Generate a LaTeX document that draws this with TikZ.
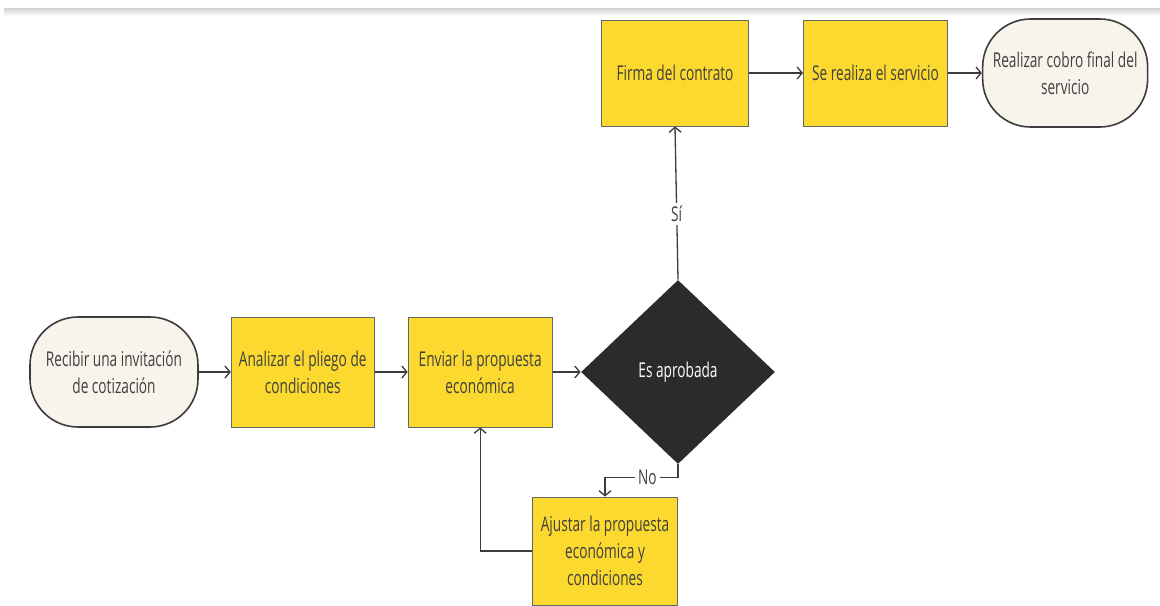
\documentclass[tikz,border=0pt]{standalone}
\usepackage{fontspec}
\setmainfont{Open Sans}[FakeStretch=0.67]
\usepackage{xcolor}
\usepackage{tikz}
\usetikzlibrary{shapes.geometric, arrows.meta, positioning}
\definecolor{boxyellow}{HTML}{FCD92E}
\definecolor{termfill}{HTML}{F8F4EC}
\definecolor{decfill}{HTML}{2B2B2D}
\definecolor{linegray}{HTML}{3C3C3C}
\newcommand{\lbl}{\fontsize{10.2}{13.5}\selectfont}

\begin{document}
\begin{tikzpicture}[x=0.5pt, y=-0.5pt]
		\tikzset{
			node distance=16pt and 16pt,
			term/.style={rectangle, draw=linegray, line width=0.8pt, fill=termfill, align=center, font=\lbl,
			text=black!75, minimum width=84pt, minimum height=55pt, rounded corners=24pt},
			box/.style={rectangle, draw=black!60, line width=0.45pt, fill=boxyellow, align=center, font=\lbl,
			text=black!75, minimum width=72pt, minimum height=55pt},
			decision/.style={diamond, fill=decfill, text=white, align=center, font=\lbl,
			minimum width=97pt, minimum height=92pt, inner sep=0pt},
			flow/.style={-{Straight Barb[length=2.5pt,width=6pt]}, draw=linegray, line width=0.65pt},
			tag/.style={fill=white, inner sep=1.5pt, font=\lbl, text=black!75}
		}
		\useasboundingbox (0,0) rectangle (1160,605);
		\shade[top color=black!18, bottom color=white] (4,8) rectangle (1160,16);

		\node[term](start) at (114,372){Recibir una invitación\\de cotización};
		\node[box, right=16pt of start, minimum width=71.5pt](analyze){Analizar el pliego de\\condiciones};
		\node[box, right=16.5pt of analyze](send){Enviar la propuesta\\económica};
		\node[decision, right=14pt of send](approved){Es aprobada};
		\node[box, minimum width=73.5pt, minimum height=53pt](sign) at (675,73){Firma del contrato};
		\node[box, right=27pt of sign, minimum height=53pt](service){Se realiza el servicio};
		\node[term, right=17pt of service, minimum width=82.5pt, minimum height=54pt](charge){Realizar cobro final del\\servicio};
		\node[box, minimum width=72.5pt, minimum height=54pt](adjust) at (605,551){Ajustar la propuesta\\económica y\\condiciones};

		\draw[flow](start) -- (analyze);
		\draw[flow](analyze) -- (send);
		\draw[flow](send) -- (approved);
		\draw[flow](approved.north) -- node[tag, pos=0.43]{Sí} (sign.south);
		\draw[flow](sign) -- (service);
		\draw[flow](service) -- (charge);
		\draw[flow](approved.south) -- ++(0,13) -| node[tag, pos=0.21]{No} (adjust.north);
		\draw[flow](adjust.west) -| (send.south);
	\end{tikzpicture}
\end{document}
